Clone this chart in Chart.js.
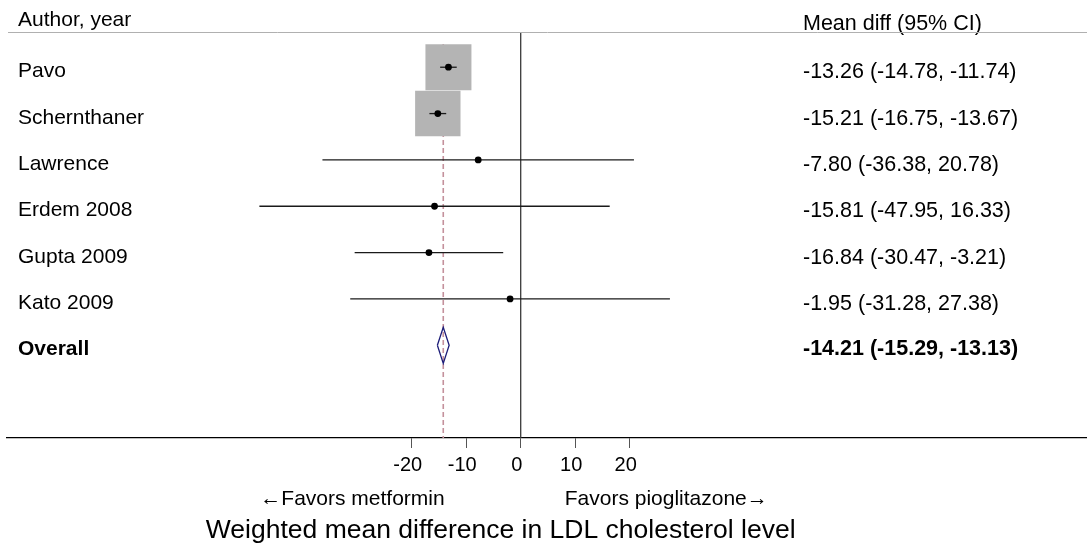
<!DOCTYPE html>
<html>
<head>
<meta charset="utf-8">
<script src="https://cdn.jsdelivr.net/npm/chart.js@4.4.1/dist/chart.umd.min.js"></script>
<style>
  html, body { margin: 0; padding: 0; background: #fff; }
  #forest { display: block; }
</style>
</head>
<body>
<canvas id="forest" width="1087" height="550"></canvas>
<script>
// Forest plot: LDL cholesterol, pioglitazone vs metformin

const studies = ['Pavo', 'Schernthaner', 'Lawrence', 'Erdem 2008', 'Gupta 2009', 'Kato 2009'];
const meanDiff = [-13.26, -15.21, -7.80, -15.81, -16.84, -1.95];
const ciLow = [-14.78, -16.75, -36.38, -47.95, -30.47, -31.28];
const ciHigh = [-11.74, -13.67, 20.78, 16.33, -3.21, 27.38];
const weights = [50.2, 48.9, 0.1, 0.1, 0.6, 0.1];

const overallLabel = 'Overall';
const overallMean = -14.21;
const overallLow = -15.29;
const overallHigh = -13.13;

const xTicks = [-20, -10, 0, 10, 20];
const headerLeft = 'Author, year';
const headerRight = 'Mean diff (95% CI)';
const favorsLeft = '\u2190Favors metformin';
const favorsRight = 'Favors pioglitazone\u2192';
const xTitle = 'Weighted mean difference in LDL cholesterol level';

const FONT = '"Liberation Sans", Arial, sans-serif';
const overallRow = studies.length;
const maxBox = 46;             // side of the biggest weight box, px
const diamondHalf = 0.39;      // half height of pooled diamond, in rows
const maxW = Math.max(...weights);

const fmt = (m, lo, hi) => `${m.toFixed(2)} (${lo.toFixed(2)}, ${hi.toFixed(2)})`;

// CI whiskers, one small line dataset each
const ciSets = studies.map((s, i) => ({
  label: s + ' CI',
  data: [{ x: ciLow[i], y: i }, { x: ciHigh[i], y: i }],
  showLine: true,
  borderColor: '#1a1a1a',
  borderWidth: 1.3,
  pointRadius: 0,
}));

const datasets = [
  {
    label: 'estimate',
    data: meanDiff.map((m, i) => ({ x: m, y: i })),
    pointStyle: 'circle',
    pointRadius: 3.4,
    backgroundColor: '#000',
    borderColor: '#000',
    borderWidth: 0,
  },
  ...ciSets,
  {
    label: 'weight',
    data: meanDiff.map((m, i) => ({ x: m, y: i })),
    pointStyle: 'rect',
    pointRadius: ctx => (maxBox * Math.sqrt(weights[ctx.dataIndex] / maxW)) / Math.SQRT2,
    backgroundColor: '#b4b4b4',
    borderWidth: 0,
  },
  {
    label: 'overall',
    data: [
      { x: overallLow, y: overallRow },
      { x: overallMean, y: overallRow - diamondHalf },
      { x: overallHigh, y: overallRow },
      { x: overallMean, y: overallRow + diamondHalf },
      { x: overallLow, y: overallRow },
    ],
    showLine: true,
    borderColor: '#1c1c78',
    borderWidth: 1.3,
    pointRadius: 0,
  },
  {
    label: 'overall line',
    data: [{ x: overallMean, y: -0.5 }, { x: overallMean, y: 8 }],
    showLine: true,
    borderColor: '#c4919c',
    borderWidth: 1.6,
    borderDash: [5, 3],
    pointRadius: 0,
  },
  {
    label: 'no effect',
    data: [{ x: 0, y: -0.76 }, { x: 0, y: 8 }],
    showLine: true,
    borderColor: '#3a3a3a',
    borderWidth: 1.3,
    pointRadius: 0,
  },
];

const textPlugin = {
  id: 'forestText',
  afterDraw(chart) {
    const { ctx, chartArea, scales } = chart;
    const y = scales.y;
    const zero = scales.x.getPixelForValue(0);
    ctx.save();
    ctx.fillStyle = '#000';
    ctx.textBaseline = 'alphabetic';

    // header
    ctx.font = '21px ' + FONT;
    ctx.textAlign = 'left';
    ctx.fillText(headerLeft, 18, 26);
    ctx.font = '21.5px ' + FONT;
    ctx.fillText(headerRight, 803, 30);
    ctx.strokeStyle = '#b0b0b0';
    ctx.lineWidth = 1;
    ctx.beginPath();
    ctx.moveTo(8, chartArea.top + 0.5);
    ctx.lineTo(chart.width, chartArea.top + 0.5);
    ctx.stroke();

    // study rows
    studies.forEach((s, i) => {
      const py = y.getPixelForValue(i);
      ctx.font = '21px ' + FONT;
      ctx.fillText(s, 18, py + 10);
      ctx.font = '21.5px ' + FONT;
      ctx.fillText(fmt(meanDiff[i], ciLow[i], ciHigh[i]), 803, py + 11);
    });

    const oy = y.getPixelForValue(overallRow);
    ctx.font = 'bold 21px ' + FONT;
    ctx.fillText(overallLabel, 18, oy + 10);
    ctx.font = 'bold 21.5px ' + FONT;
    ctx.fillText(fmt(overallMean, overallLow, overallHigh), 803, oy + 10);

    // favours labels and axis title
    ctx.font = '21px ' + FONT;
    ctx.textAlign = 'right';
    ctx.fillText(favorsLeft, zero - 76, 505);
    ctx.textAlign = 'left';
    ctx.fillText(favorsRight, zero + 44, 505);
    ctx.font = '26.5px ' + FONT;
    ctx.textAlign = 'center';
    ctx.fillText(xTitle, zero - 20, 538);
    ctx.restore();
  },
};

new Chart(document.getElementById('forest'), {
  type: 'scatter',
  data: { datasets },
  options: {
    responsive: false,
    devicePixelRatio: 1,
    animation: false,
    layout: { autoPadding: false, padding: { left: 7, right: 0, top: 32, bottom: 0 } },
    plugins: { legend: { display: false }, tooltip: { enabled: false } },
    elements: { line: { tension: 0 } },
    scales: {
      x: {
        type: 'linear',
        position: 'bottom',
        min: -94.26,
        max: 103.91,
        afterBuildTicks: scale => { scale.ticks = xTicks.map(v => ({ value: v })); },
        afterFit: scale => {
          scale.height = 112;
          scale.paddingLeft = 0;
          scale.paddingRight = 0;
        },
        grid: { drawOnChartArea: false, tickLength: 10, color: '#555', lineWidth: 1 },
        border: { display: true, color: '#000', width: 1.3 },
        ticks: {
          font: { family: FONT, size: 20 },
          color: '#000',
          padding: 5,
          labelOffset: -4,
          maxRotation: 0,
        },
      },
      y: {
        type: 'linear',
        display: false,
        reverse: true,
        min: -0.76,
        max: 8,
      },
    },
  },
  plugins: [textPlugin],
});
</script>
</body>
</html>
